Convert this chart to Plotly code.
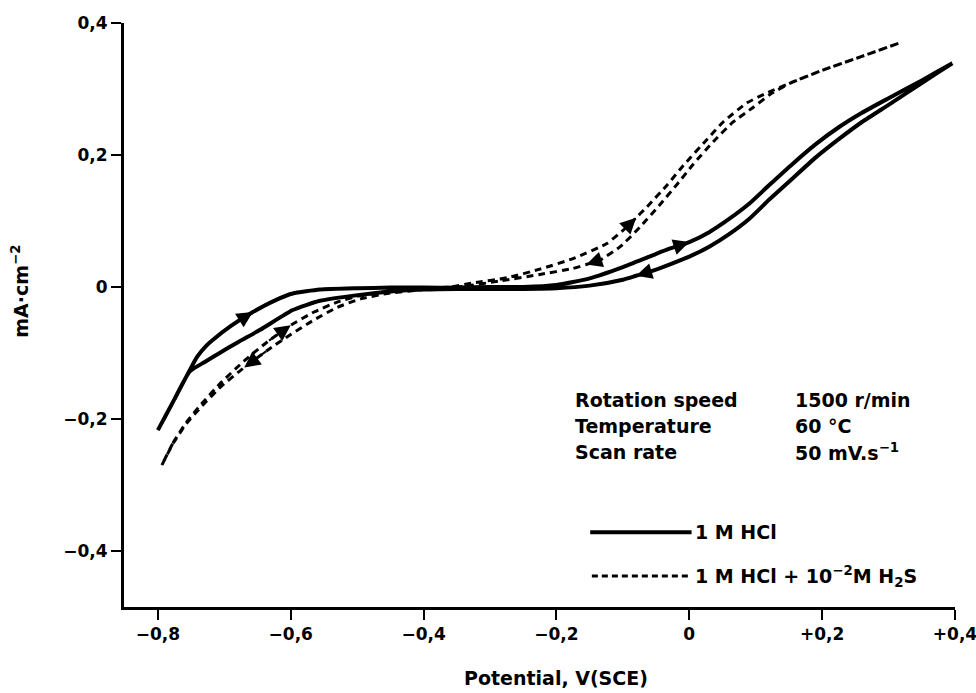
import plotly.graph_objects as go

# ---- data (potential V vs SCE, current density mA/cm2) ----
hcl_fwd_x = [-0.800, -0.775, -0.752, -0.741, -0.728, -0.717, -0.690, -0.657, -0.625, -0.597, -0.556,
             -0.500, -0.450, -0.400, -0.350, -0.300, -0.250, -0.200, -0.150, -0.100, -0.060, -0.030,
             0.000, 0.030, 0.060, 0.090, 0.120, 0.155, 0.190, 0.225, 0.260, 0.300, 0.350, 0.396]
hcl_fwd_y = [-0.217, -0.170, -0.126, -0.106, -0.090, -0.080, -0.059, -0.038, -0.021, -0.010, -0.004,
             -0.002, -0.001, -0.001, -0.001, 0.000, 0.000, 0.003, 0.013, 0.030, 0.046, 0.058,
             0.068, 0.083, 0.103, 0.126, 0.154, 0.186, 0.216, 0.242, 0.264, 0.286, 0.313, 0.339]

hcl_rev_x = [0.396, 0.350, 0.300, 0.260, 0.225, 0.190, 0.155, 0.120, 0.090, 0.060, 0.030, 0.000,
             -0.030, -0.060, -0.080, -0.100, -0.150, -0.200, -0.250, -0.300, -0.350, -0.400, -0.450,
             -0.496, -0.556, -0.597, -0.646, -0.680, -0.707, -0.730, -0.752, -0.775, -0.800]
hcl_rev_y = [0.339, 0.309, 0.276, 0.250, 0.224, 0.196, 0.164, 0.132, 0.103, 0.080, 0.061, 0.046,
             0.034, 0.023, 0.017, 0.011, 0.002, -0.002, -0.003, -0.003, -0.003, -0.004, -0.007,
             -0.012, -0.021, -0.035, -0.065, -0.084, -0.100, -0.114, -0.128, -0.170, -0.217]

h2s_fwd_x = [-0.794, -0.777, -0.757, -0.735, -0.705, -0.670, -0.635, -0.600, -0.565, -0.530, -0.495,
             -0.455, -0.400, -0.360, -0.326, -0.274, -0.225, -0.175, -0.124, -0.094, -0.080, -0.064,
             -0.033, -0.009, 0.027, 0.051, 0.087, 0.117, 0.152, 0.202, 0.253, 0.317]
h2s_fwd_y = [-0.270, -0.236, -0.205, -0.178, -0.145, -0.112, -0.083, -0.058, -0.038, -0.023, -0.013,
             -0.007, -0.003, 0.000, 0.006, 0.014, 0.027, 0.043, 0.066, 0.091, 0.105, 0.121,
             0.155, 0.184, 0.224, 0.250, 0.279, 0.294, 0.309, 0.329, 0.347, 0.370]

h2s_rev_x = [0.317, 0.253, 0.202, 0.152, 0.122, 0.096, 0.066, 0.036, 0.006, -0.018, -0.044, -0.074,
             -0.104, -0.134, -0.155, -0.175, -0.225, -0.285, -0.340, -0.400, -0.455, -0.495, -0.530,
             -0.565, -0.600, -0.635, -0.670, -0.705, -0.735, -0.757, -0.777, -0.794]
h2s_rev_y = [0.370, 0.347, 0.329, 0.309, 0.292, 0.272, 0.250, 0.220, 0.186, 0.156, 0.125, 0.091,
             0.061, 0.041, 0.034, 0.028, 0.019, 0.009, 0.001, -0.004, -0.010, -0.018, -0.031,
             -0.050, -0.072, -0.096, -0.122, -0.151, -0.182, -0.207, -0.237, -0.270]

x_tickvals = [-0.8, -0.6, -0.4, -0.2, 0.0, 0.2, 0.4]
x_ticktext = ["−0,8", "−0,6", "−0,4", "−0,2", "0", "+0,2", "+0,4"]
y_tickvals = [0.4, 0.2, 0.0, -0.2, -0.4]
y_ticktext = ["0,4", "0,2", "0", "−0,2", "−0,4"]

conditions = ["Rotation speed", "Temperature", "Scan rate"]
condition_values = ["1500 r/min", "60 °C", "50 mV.s<sup>−1</sup>"]
series_names = ["1 M HCl", "1 M HCl + 10<sup>−2</sup>M H<sub>2</sub>S"]

FONT = "DejaVu Sans"
fig = go.Figure()

fig.add_trace(go.Scatter(x=hcl_fwd_x + hcl_rev_x, y=hcl_fwd_y + hcl_rev_y, mode="lines",
                         line=dict(color="black", width=4, shape="spline", smoothing=0.5),
                         showlegend=False, hoverinfo="skip"))
fig.add_trace(go.Scatter(x=h2s_fwd_x + h2s_rev_x, y=h2s_fwd_y + h2s_rev_y, mode="lines",
                         line=dict(color="black", width=3, dash="7px,5px", shape="spline", smoothing=0.5),
                         showlegend=False, hoverinfo="skip"))

annotations = []

def arrow(xs, ys, i):
    annotations.append(dict(x=xs[i], y=ys[i], ax=xs[i - 1], ay=ys[i - 1], xref="x", yref="y",
                            axref="x", ayref="y", text="", showarrow=True, arrowhead=2,
                            arrowsize=1.6, arrowwidth=2, arrowcolor="black", standoff=0))

arrow(hcl_fwd_x, hcl_fwd_y, hcl_fwd_x.index(-0.657))
arrow(hcl_fwd_x, hcl_fwd_y, hcl_fwd_x.index(0.000))
arrow(hcl_rev_x, hcl_rev_y, hcl_rev_x.index(-0.080))
arrow(h2s_fwd_x, h2s_fwd_y, h2s_fwd_x.index(-0.600))
arrow(h2s_fwd_x, h2s_fwd_y, h2s_fwd_x.index(-0.080))
arrow(h2s_rev_x, h2s_rev_y, h2s_rev_x.index(-0.670))
arrow(h2s_rev_x, h2s_rev_y, h2s_rev_x.index(-0.155))

tfont = dict(family=FONT, size=19, color="black", weight="bold")
for k, (lab, val) in enumerate(zip(conditions, condition_values)):
    yy = 0.354 - k * 0.044
    annotations.append(dict(x=0.540, y=yy, xref="paper", yref="paper", text=lab, showarrow=False,
                            xanchor="left", yanchor="middle", font=tfont))
    annotations.append(dict(x=0.805, y=yy, xref="paper", yref="paper", text=val, showarrow=False,
                            xanchor="left", yanchor="middle", font=tfont))

legend_y = [0.128, 0.053]
for name, ly in zip(series_names, legend_y):
    annotations.append(dict(x=0.685, y=ly, xref="paper", yref="paper", text=name, showarrow=False,
                            xanchor="left", yanchor="middle", font=tfont))

# axis titles
annotations.append(dict(x=0.52, y=-0.122, xref="paper", yref="paper", text="Potential, V(SCE)",
                        showarrow=False, xanchor="center", yanchor="middle", font=tfont))
annotations.append(dict(x=-0.125, y=0.54, xref="paper", yref="paper", text="mA·cm<sup>−2</sup>",
                        showarrow=False, textangle=-90, xanchor="center", yanchor="middle", font=tfont))

shapes = [
    dict(type="line", xref="paper", yref="paper", x0=0.561, x1=0.683, y0=legend_y[0], y1=legend_y[0],
         line=dict(color="black", width=4)),
    dict(type="line", xref="paper", yref="paper", x0=0.563, x1=0.680, y0=legend_y[1], y1=legend_y[1],
         line=dict(color="black", width=3, dash="6px,4px")),
]

axis_common = dict(showline=True, linecolor="black", linewidth=3, ticks="outside", ticklen=10,
                   tickwidth=2, tickcolor="black", showgrid=False, zeroline=False,
                   ticklabeloverflow="allow", automargin=False,
                   tickfont=dict(family=FONT, size=17, color="black", weight="bold"))

fig.update_layout(
    width=976, height=693,
    margin=dict(l=124, r=21, t=23, b=86, autoexpand=False),
    paper_bgcolor="white", plot_bgcolor="white",
    xaxis=dict(range=[-0.851, 0.4], tickvals=x_tickvals, ticktext=x_ticktext, **axis_common),
    yaxis=dict(range=[-0.485, 0.4], tickvals=y_tickvals, ticktext=y_ticktext, **axis_common),
    annotations=annotations, shapes=shapes, showlegend=False, hovermode=False,
)

fig.write_html("out.html", config={"displayModeBar": False},
               post_script="document.body.style.margin='0px';document.body.style.overflow='hidden';")
